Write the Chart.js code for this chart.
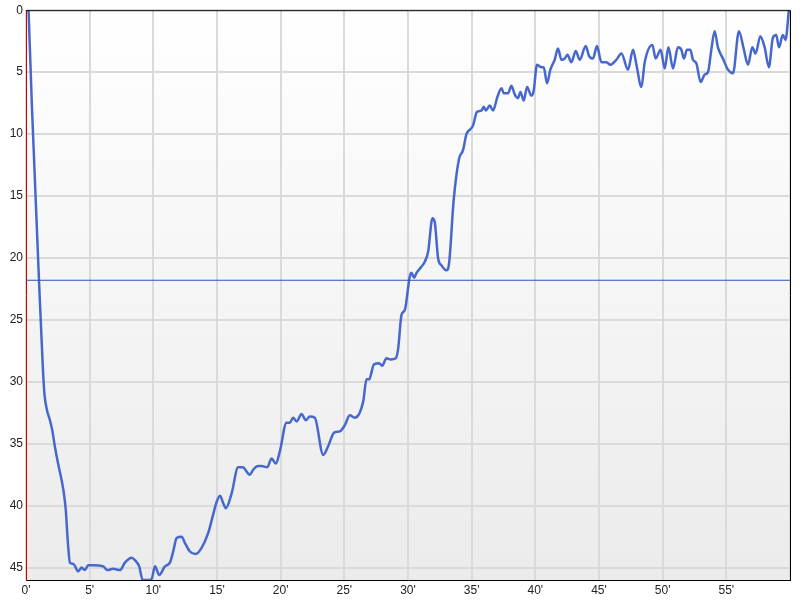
<!DOCTYPE html>
<html>
<head>
<meta charset="utf-8">
<script src="https://cdn.jsdelivr.net/npm/chart.js@4/dist/chart.umd.min.js"></script>
<style>
  body { margin: 0; background: #fff; }
  canvas { display: block; }
</style>
</head>
<body>
<canvas id="diveChart" width="800" height="600"></canvas>
<script>
// Dive profile: time in minutes, depth in metres

const minutes = [
  0.2, 0.47, 1.02, 1.33, 1.45, 1.65, 1.88, 2.06, 2.28, 2.54,
  2.93, 3.12, 3.27, 3.45, 3.71, 4.11, 4.37, 4.63, 4.89, 5.28,
  6.07, 6.38, 6.85, 7.38, 7.77, 8.30, 8.56, 8.89, 9.16, 9.60,
  9.87, 10.13, 10.46, 10.91, 11.30, 11.56, 11.83, 12.22, 12.48, 12.87,
  13.32, 13.79, 14.31, 14.70, 14.97, 15.23, 15.49, 15.70, 16.15, 16.66,
  17.01, 17.58, 17.84, 18.23, 18.50, 18.94, 19.29, 19.62, 19.94, 20.46,
  20.72, 20.98, 21.25, 21.64, 21.98, 22.29, 22.68, 23.34, 23.73, 24.20,
  24.65, 25.04, 25.43, 25.82, 26.48, 26.74, 26.95, 27.32, 27.73, 27.97,
  28.31, 28.63, 29.04, 29.23, 29.49, 29.75, 30.14, 30.27, 30.48, 30.67,
  31.06, 31.32, 31.58, 31.92, 32.10, 32.36, 32.63, 33.02, 33.23, 33.59,
  34.01, 34.32, 34.59, 34.91, 35.11, 35.42, 35.77, 35.95, 36.11, 36.42,
  36.68, 37.02, 37.34, 37.52, 37.86, 38.12, 38.38, 38.64, 38.83, 39.09,
  39.35, 39.69, 39.87, 40.13, 40.48, 40.66, 40.92, 41.18, 41.52, 41.78,
  42.05, 42.31, 42.52, 42.83, 43.17, 43.49, 43.96, 44.22, 44.53, 44.84,
  45.19, 45.58, 45.90, 46.37, 46.76, 47.28, 47.67, 47.94, 48.33, 48.59,
  49.19, 49.45, 49.84, 50.16, 50.45, 50.81, 51.20, 51.47, 51.67, 51.91,
  52.17, 52.38, 52.65, 52.98, 53.30, 53.56, 53.82, 54.08, 54.34, 54.73,
  55.13, 55.52, 55.99, 56.36, 56.70, 57.04, 57.30, 57.67, 58.01, 58.34,
  58.66, 58.92, 59.13, 59.44, 59.65, 59.91
];

const depths = [
  0, 7.9, 21.8, 29, 31, 32.3, 33.1, 33.9, 35.3, 36.7,
  38.7, 40.3, 42.7, 44.6, 44.7, 45.3, 45.0, 45.2, 44.8, 44.8,
  44.9, 45.2, 45.1, 45.2, 44.6, 44.2, 44.4, 44.9, 46, 46,
  45.9, 44.9, 45.6, 44.9, 44.6, 43.7, 42.6, 42.5, 43, 43.7,
  43.9, 43.4, 42.2, 40.7, 39.7, 39.2, 39.8, 40.2, 39.0, 36.9,
  36.9, 37.5, 37.1, 36.8, 36.8, 36.9, 36.2, 36.6, 35.6, 33.3,
  33.3, 32.9, 33.2, 32.6, 33.1, 32.8, 32.9, 35.9, 35.2, 34.1,
  34.0, 33.5, 32.7, 32.9, 31.6, 29.8, 29.8, 28.6, 28.5, 28.7,
  28.1, 28.2, 28.1, 27.3, 24.6, 24.2, 21.5, 21.2, 21.6, 21.2,
  20.7, 20.3, 19.5, 16.8, 17.1, 20.0, 20.6, 21.0, 20.4, 15.3,
  12.0, 11.3, 10.0, 9.6, 9.3, 8.2, 8.1, 7.8, 8.1, 7.7,
  8.1, 7.0, 6.3, 6.7, 6.7, 6.1, 6.8, 7.1, 6.6, 7.3,
  6.2, 6.9, 6.5, 4.4, 4.6, 4.6, 5.9, 4.8, 4.0, 3.1,
  4.0, 3.9, 3.6, 4.2, 3.3, 4.0, 2.9, 3.7, 3.9, 2.9,
  4.2, 4.2, 4.4, 4.0, 3.5, 4.8, 3.2, 4.4, 6.2, 4.2,
  2.8, 3.9, 3.2, 4.7, 3.0, 4.7, 3.0, 3.2, 3.9, 3.2,
  3.2, 4.0, 4.3, 5.8, 5.2, 5.0, 3.2, 1.7, 3.0, 3.9,
  4.8, 5.1, 1.7, 3.1, 4.4, 3.0, 3.5, 2.1, 3.0, 4.6,
  2.2, 2.0, 3.0, 2.0, 2.4, 0
];

// average depth marker
const avgDepth = 21.8;
const timeRange = [0, 60];
const depthRange = [0, 46];

const profile = minutes.map((t, i) => ({ x: t, y: depths[i] }));
const avgLine = timeRange.map(t => ({ x: t, y: avgDepth }));

// plot background + frame
const framePlugin = {
  id: 'frame',
  beforeDraw(chart) {
    const { ctx, chartArea: a } = chart;
    const grad = ctx.createLinearGradient(0, a.top, 0, a.bottom);
    grad.addColorStop(0, '#ffffff');
    grad.addColorStop(1, '#ebebeb');
    ctx.save();
    ctx.fillStyle = grad;
    ctx.fillRect(a.left, a.top, a.right - a.left, a.bottom - a.top);
    ctx.restore();
  },
  afterDraw(chart) {
    const { ctx, chartArea: a } = chart;
    ctx.save();
    ctx.strokeStyle = '#000';
    ctx.lineWidth = 1;
    ctx.beginPath();
    ctx.moveTo(a.left, a.top + 0.5);
    ctx.lineTo(a.right + 0.5, a.top + 0.5);
    ctx.lineTo(a.right + 0.5, a.bottom);
    ctx.stroke();
    ctx.restore();
  }
};

Chart.defaults.font.family = 'Arial, "Liberation Sans", sans-serif';
Chart.defaults.font.size = 12;
Chart.defaults.color = '#222';

new Chart(document.getElementById('diveChart'), {
  type: 'line',
  data: {
    datasets: [
      {
        data: avgLine,
        borderColor: '#2f4fb0',
        borderWidth: 1.2,
        pointRadius: 0
      },
      {
        data: profile,
        borderColor: '#4668cc',
        borderWidth: 2.5,
        pointRadius: 0,
        tension: 0.25,
        cubicInterpolationMode: 'monotone'
      }
    ]
  },
  options: {
    responsive: false,
    animation: false,
    layout: { padding: { top: 10, right: 10, left: 0, bottom: 0 } },
    plugins: {
      legend: { display: false },
      tooltip: { enabled: false }
    },
    scales: {
      x: {
        type: 'linear',
        min: timeRange[0],
        max: timeRange[1],
        afterFit: s => { s.height = 20; },
        ticks: {
          stepSize: 5,
          padding: 3,
          maxRotation: 0,
          callback: v => v >= 60 ? '' : v + "'"
        },
        grid: { color: '#dadada', lineWidth: 2, drawTicks: false },
        border: { color: '#000', width: 1 }
      },
      y: {
        reverse: true,
        min: depthRange[0],
        max: depthRange[1],
        afterFit: s => { s.width = 26; },
        ticks: { stepSize: 5, padding: 3, includeBounds: false },
        grid: { color: '#dadada', lineWidth: 2, drawTicks: false },
        border: { color: '#cc0000', width: 1 }
      }
    }
  },
  plugins: [framePlugin]
});
</script>
</body>
</html>
